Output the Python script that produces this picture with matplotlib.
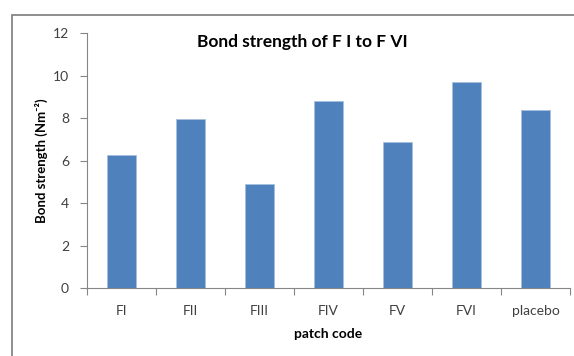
import matplotlib
matplotlib.use("Agg")
import matplotlib.pyplot as plt
from matplotlib.patches import Rectangle
import numpy as np

# patch codes and their measured bond strength
patch_codes = ["FI", "FII", "FIII", "FIV", "FV", "FVI", "placebo"]
bond_strength = [6.26, 7.94, 4.89, 8.81, 6.86, 9.68, 8.38]
y_ticks = [0, 2, 4, 6, 8, 10, 12]

plt.rcParams["font.family"] = ["Lato", "DejaVu Sans"]
grey = "#868686"
text_col = "#404040"

fig = plt.figure(figsize=(5.74, 3.56), dpi=100)
ax = fig.add_axes([0.1516, 0.191, 0.8414, 0.716])

# outer chart-area frame, runs off the right and bottom edges
fig.patches.append(Rectangle((12 / 574, -0.05), 1.1, 1.05 - 15 / 356,
                             transform=fig.transFigure, fill=False,
                             edgecolor=grey, linewidth=1.3))

x = np.arange(len(patch_codes))
ax.bar(x, bond_strength, width=0.42, color="#4F81BD",
       edgecolor="#A7C0DE", linewidth=0.6, zorder=2)

ax.set_xlim(-0.5, len(patch_codes) - 0.5)
ax.set_ylim(0, 12)
ax.set_yticks(y_ticks)
ax.set_xticks(x)
ax.set_xticklabels(patch_codes)
ax.set_xticks(np.arange(len(patch_codes) + 1) - 0.5, minor=True)
ax.tick_params(axis="x", which="major", length=0, pad=12, labelsize=10, labelcolor=text_col)
ax.tick_params(axis="x", which="minor", length=5, color=grey, width=0.8)
ax.tick_params(axis="y", length=5, color=grey, width=0.8, pad=8,
               labelsize=10, labelcolor=text_col)

for side in ["top", "right"]:
    ax.spines[side].set_visible(False)
for side in ["left", "bottom"]:
    ax.spines[side].set_color(grey)
    ax.spines[side].set_linewidth(0.8)

fig.text(302 / 574, 1 - 42 / 356, "Bond strength of F I to F VI",
         fontsize=12.5, fontweight="bold", ha="center", va="center")
ax.set_ylabel("Bond strength (Nm⁻²)", fontsize=9.5, fontweight="bold")
ax.yaxis.set_label_coords(-0.081, 0.5)
ax.set_xlabel("patch code", fontsize=10, fontweight="bold", labelpad=8)

fig.savefig("out.png", dpi=100)
